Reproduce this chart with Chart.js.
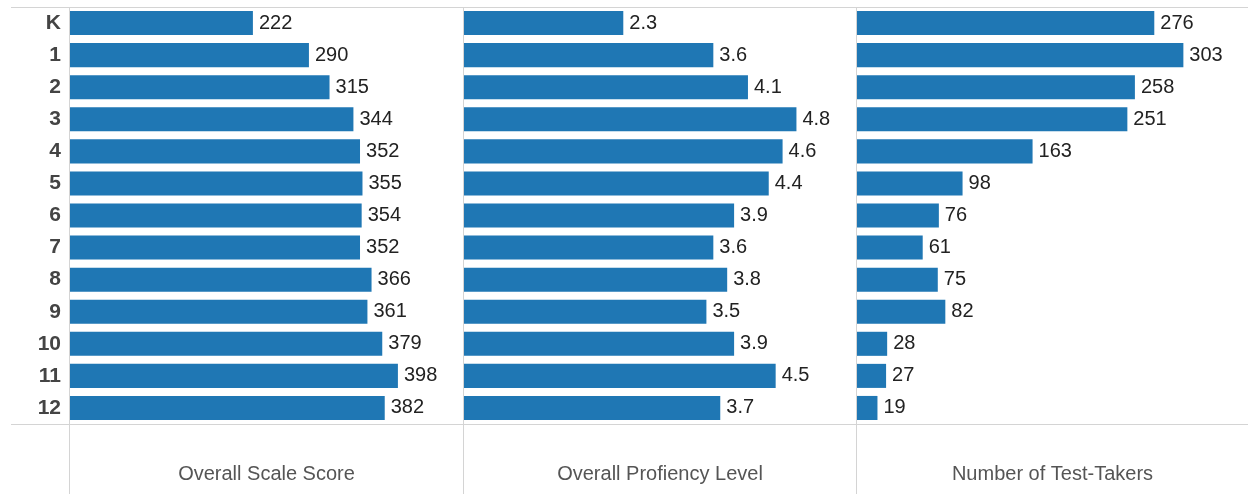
<!DOCTYPE html>
<html>
<head>
<meta charset="utf-8">
<script src="https://cdn.jsdelivr.net/npm/chart.js@4/dist/chart.umd.min.js"></script>
<style>
  html, body { margin: 0; padding: 0; background: #fff; }
  #wrap { position: relative; width: 1248px; height: 494px; overflow: hidden; }
  .panel { position: absolute; top: 0; height: 494px; }
</style>
</head>
<body>
<div id="wrap">
  <div class="panel" style="left:0;width:463px"><canvas id="c1"></canvas></div>
  <div class="panel" style="left:463px;width:393px"><canvas id="c2"></canvas></div>
  <div class="panel" style="left:856px;width:392px"><canvas id="c3"></canvas></div>
</div>
<script>
const grades = ['K', '1', '2', '3', '4', '5', '6', '7', '8', '9', '10', '11', '12'];
const scaleScore = [222, 290, 315, 344, 352, 355, 354, 352, 366, 361, 379, 398, 382];
const proficiency = [2.3, 3.6, 4.1, 4.8, 4.6, 4.4, 3.9, 3.6, 3.8, 3.5, 3.9, 4.5, 3.7];
const testTakers = [276, 303, 258, 251, 163, 98, 76, 61, 75, 82, 28, 27, 19];
const panelTitles = ['Overall Scale Score', 'Overall Profiency Level', 'Number of Test-Takers'];

const lineColor = '#d4d4d4';
const barColor = '#1f77b4';
const fontFamily = '"Liberation Sans", Arial, sans-serif';

// lines, panel title and value labels
const framePlugin = {
    id: 'frame',
    afterDatasetsDraw(chart, args, opts) {
        const ctx = chart.ctx;
        const a = chart.chartArea;
        ctx.save();
        ctx.strokeStyle = lineColor;
        ctx.lineWidth = 1;
        ctx.beginPath();
        ctx.moveTo(opts.lineStart, a.top + 0.5);
        ctx.lineTo(chart.width, a.top + 0.5);
        ctx.moveTo(opts.lineStart, a.bottom + 0.5);
        ctx.lineTo(chart.width, a.bottom + 0.5);
        ctx.moveTo(a.left - 0.5, a.top);
        ctx.lineTo(a.left - 0.5, chart.height);
        ctx.stroke();

        ctx.fillStyle = '#222';
        ctx.font = '20px ' + fontFamily;
        ctx.textAlign = 'left';
        ctx.textBaseline = 'middle';
        const meta = chart.getDatasetMeta(0);
        const vals = chart.data.datasets[0].data;
        meta.data.forEach((bar, i) => {
            ctx.fillText(opts.fmt(vals[i]), bar.x + 6, bar.y);
        });

        ctx.fillStyle = '#555';
        ctx.font = '20px ' + fontFamily;
        ctx.textAlign = 'center';
        ctx.fillText(opts.title, (a.left + a.right) / 2, 474);
        ctx.restore();
    }
};

function makeChart(id, values, max, title, fmt, showLabels) {
    return new Chart(document.getElementById(id), {
        type: 'bar',
        data: {
            labels: grades,
            datasets: [{
                data: values,
                backgroundColor: barColor,
                borderWidth: 0,
                categoryPercentage: 1,
                barPercentage: 0.75
            }]
        },
        options: {
            indexAxis: 'y',
            responsive: true,
            maintainAspectRatio: false,
            animation: false,
            layout: { padding: { top: 7, bottom: 70, left: showLabels ? 0 : 1, right: 0 } },
            scales: {
                x: { display: false, min: 0, max: max },
                y: {
                    display: showLabels,
                    grid: { display: false, drawTicks: false },
                    border: { display: false },
                    ticks: {
                        padding: 9,
                        color: '#444',
                        font: { family: fontFamily, size: 21, weight: 'bold' }
                    },
                    afterFit: (scale) => {
                        if (!showLabels) return;
                        scale.width = 70;
                        scale.paddingTop = 0;
                        scale.paddingBottom = 0;
                    }
                }
            },
            plugins: {
                legend: { display: false },
                tooltip: { enabled: false },
                frame: { title: title, fmt: fmt, lineStart: showLabels ? 11 : 0 }
            }
        },
        plugins: [framePlugin]
    });
}

makeChart('c1', scaleScore, 477, panelTitles[0], v => String(v), true);
makeChart('c2', proficiency, 5.66, panelTitles[1], v => v.toFixed(1), false);
makeChart('c3', testTakers, 363, panelTitles[2], v => String(v), false);
</script>
</body>
</html>
